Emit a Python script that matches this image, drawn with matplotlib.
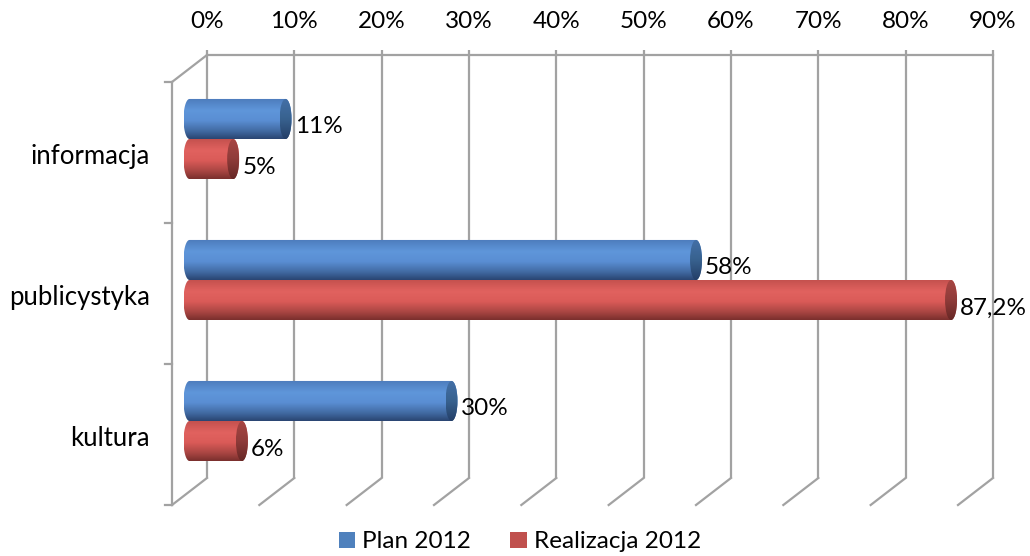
import numpy as np
import matplotlib
matplotlib.use("Agg")
import matplotlib.pyplot as plt
from matplotlib import patches, transforms
from matplotlib.colors import LinearSegmentedColormap

categories = ["informacja", "publicystyka", "kultura"]
plan_2012 = [11, 58, 30]
realizacja_2012 = [5, 87.2, 6]
plan_labels = ["11%", "58%", "30%"]
real_labels = ["5%", "87,2%", "6%"]
tick_values = [0, 10, 20, 30, 40, 50, 60, 70, 80, 90]
tick_labels = ["0%", "10%", "20%", "30%", "40%", "50%", "60%", "70%", "80%", "90%"]
series_names = ["Plan 2012", "Realizacja 2012"]

W, H, DPI = 1030, 556, 100
FS = 17.5
plt.rcParams['font.family'] = ['Lato', 'DejaVu Sans']
fig = plt.figure(figsize=(W / DPI, H / DPI), dpi=DPI)
fig.patch.set_facecolor('white')

ax = fig.add_axes([189.5 / W, (H - 491.5) / H, 786 / W, 423 / H])
ax.set_xlim(0, 90)
ax.set_ylim(2.5, -0.5)
ax.axis('off')

DX, DY = 17.5, 13.5
back = ax.transData + transforms.ScaledTranslation(DX / DPI, DY / DPI, fig.dpi_scale_trans)
front = ax.transData + transforms.ScaledTranslation(-DX / DPI, -DY / DPI, fig.dpi_scale_trans)

gcol = '#a2a2a2'
glw = 1.6
px_x = 90 / 786.0
px_y = 3 / 423.0

for v in tick_values:
    ax.plot([v, v], [-0.5 - 5 * px_y, 2.5], color=gcol, lw=glw, transform=back, clip_on=False, solid_capstyle='butt')
    p0 = back.transform((v, 2.5))
    p1 = front.transform((v, 2.5))
    fig.add_artist(plt.Line2D([p0[0] / W, p1[0] / W], [p0[1] / H, p1[1] / H], color=gcol, lw=glw, transform=fig.transFigure))
ax.plot([0, 90], [-0.5, -0.5], color=gcol, lw=glw, transform=back, clip_on=False)
p0 = back.transform((0, -0.5))
p1 = front.transform((0, -0.5))
fig.add_artist(plt.Line2D([p0[0] / W, p1[0] / W], [p0[1] / H, p1[1] / H], color=gcol, lw=glw, transform=fig.transFigure))
ax.plot([0, 0], [-0.5, 2.5], color=gcol, lw=glw, transform=front, clip_on=False)
for yb in [-0.5, 0.5, 1.5, 2.5]:
    ax.plot([0, -7 * px_x], [yb, yb], color=gcol, lw=glw, transform=front, clip_on=False)

for v, lab in zip(tick_values, tick_labels):
    ax.annotate(lab, xy=(v, -0.5), xycoords=back, xytext=(0, 33), textcoords='offset pixels',
                ha='center', va='center', fontsize=FS, color='black', annotation_clip=False)

for i, c in enumerate(categories):
    ax.annotate(c, xy=(0, i), xycoords=front, xytext=(-22, -4), textcoords='offset pixels',
                ha='right', va='center', fontsize=18.5, color='black', annotation_clip=False)

blue_body = LinearSegmentedColormap.from_list('bb', [(0, '#4c7bbb'), (0.3, '#5f96da'), (0.55, '#5a8ed3'), (0.8, '#426ba3'), (1, '#2a4572')])
red_body = LinearSegmentedColormap.from_list('rb', [(0, '#c2504d'), (0.3, '#e1625f'), (0.55, '#da5b58'), (0.8, '#aa4643'), (1, '#7a2f2d')])
blue_cap = LinearSegmentedColormap.from_list('bc', [(0, '#4470a8'), (0.5, '#38628f'), (1, '#243f68')])
red_cap = LinearSegmentedColormap.from_list('rc', [(0, '#a84643'), (0.5, '#903c3a'), (1, '#672725')])

bar_h = 0.284
a = 6 * px_x
b = bar_h / 2
grad = np.linspace(0, 1, 200).reshape(-1, 1)

def cylinder(v, yc, body_cmap, cap_cmap):
    t1 = np.linspace(np.pi / 2, 3 * np.pi / 2, 40)
    t2 = np.linspace(-np.pi / 2, np.pi / 2, 40)
    xs = np.concatenate([a * np.cos(t1), v + a * np.cos(t2)])
    ys = np.concatenate([yc - b * np.sin(t1), yc - b * np.sin(t2)])
    poly = patches.Polygon(np.column_stack([xs, ys]), closed=True, transform=ax.transData, facecolor='none', edgecolor='none')
    ax.add_patch(poly)
    im = ax.imshow(grad, cmap=body_cmap, extent=[-a, v + a, yc + b, yc - b], aspect='auto', zorder=3, interpolation='bilinear')
    im.set_clip_box(fig.bbox)
    im.set_clip_path(poly)
    ell = patches.Ellipse((v, yc), 2 * a, 2 * b, transform=ax.transData, facecolor='none', edgecolor='none')
    ax.add_patch(ell)
    im2 = ax.imshow(grad, cmap=cap_cmap, extent=[v - a, v + a, yc + b, yc - b], aspect='auto', zorder=4, interpolation='bilinear')
    im2.set_clip_box(fig.bbox)
    im2.set_clip_path(ell)

for i in range(len(categories)):
    yp = i - b
    yr = i + b
    cylinder(plan_2012[i], yp, blue_body, blue_cap)
    cylinder(realizacja_2012[i], yr, red_body, red_cap)
    ax.annotate(plan_labels[i], xy=(plan_2012[i] + a, yp), xytext=(3, -8), textcoords='offset pixels',
                ha='left', va='center', fontsize=FS, annotation_clip=False, zorder=6)
    ax.annotate(real_labels[i], xy=(realizacja_2012[i] + a, yr), xytext=(3, -8), textcoords='offset pixels',
                ha='left', va='center', fontsize=FS, annotation_clip=False, zorder=6)

ax.set_xlim(0, 90)
ax.set_ylim(2.5, -0.5)

handles = [patches.Patch(facecolor='#4f81bd'), patches.Patch(facecolor='#c0504d')]
fig.legend(handles, series_names, loc='center', bbox_to_anchor=(520 / W, 1 - 542 / H), ncol=2, frameon=False,
           fontsize=FS, handlelength=0.68, handleheight=0.68, columnspacing=1.6, handletextpad=0.3)

fig.savefig('out.png', dpi=DPI, facecolor='white')
